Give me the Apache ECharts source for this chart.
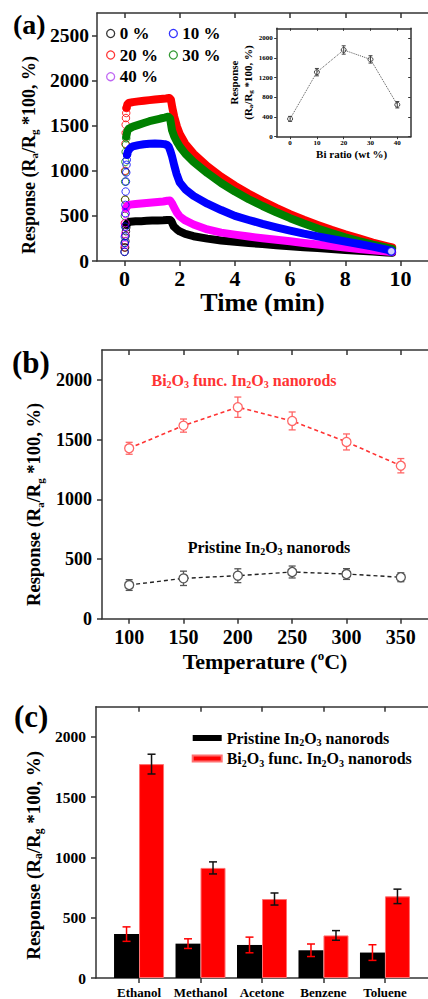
<!DOCTYPE html>
<html><head><meta charset="utf-8">
<script src="https://cdn.jsdelivr.net/npm/echarts@6/dist/echarts.min.js"></script>
<style>html,body{margin:0;padding:0;background:#fff}#c{width:428px;height:999px}</style>
</head><body><div id="c"></div>
<script>
// ================= DATA =================
// Panel (a): response transients, time (min) vs response
const timeTicks = [0, 2, 4, 6, 8, 10];
const respTicksA = [0, 500, 1000, 1500, 2000, 2500];
const namesA = ['0 %', '10 %', '20 %', '30 %', '40 %'];

const rise0 = [[0,100],[0.02,150],[0.03,220],[0.04,280],[0.05,330],[0.06,370],[0.07,400]];
const curve0 = [[0.07,405],[0.12,425],[0.2,435],[0.4,440],[0.6,442],[0.8,445],[1.0,448],[1.2,450],[1.4,452],[1.55,455],[1.65,455],[1.7,440],[1.78,385],[1.9,350],[2.0,328],[2.2,300],[2.5,275],[3.0,248],[3.5,228],[4.0,213],[4.5,200],[5.0,187],[5.5,175],[6.0,164],[6.5,153],[7.0,143],[7.5,133],[8.0,123],[8.5,113],[9.0,104],[9.5,95],[9.7,92]];

const rise1 = [[0,103],[0.01,200],[0.01,270],[0.02,381],[0.03,530],[0.03,622],[0.04,770],[0.05,881],[0.06,981],[0.07,1067],[0.08,1122],[0.09,1178]];
const curve1 = [[0.09,1178],[0.12,1215],[0.2,1250],[0.3,1270],[0.5,1285],[0.7,1295],[0.9,1300],[1.1,1302],[1.3,1300],[1.45,1296],[1.55,1285],[1.6,1268],[1.66,1220],[1.72,1160],[1.8,1060],[1.88,970],[2.0,870],[2.2,795],[2.5,722],[3.0,635],[3.5,565],[4.0,500],[4.5,455],[5.0,412],[5.5,373],[6.0,337],[6.5,303],[7.0,273],[7.5,244],[8.0,216],[8.5,188],[9.0,160],[9.5,127],[9.67,108]];

const rise2 = [[0,150],[0.01,420],[0.02,680],[0.02,1000],[0.03,1300],[0.04,1420],[0.04,1511],[0.05,1585],[0.06,1641],[0.07,1696]];
const curve2 = [[0.07,1700],[0.1,1735],[0.15,1752],[0.3,1762],[0.5,1770],[0.7,1777],[0.9,1784],[1.1,1790],[1.3,1796],[1.5,1802],[1.62,1808],[1.68,1790],[1.73,1700],[1.8,1600],[1.9,1490],[2.0,1410],[2.2,1300],[2.5,1190],[3.0,1050],[3.5,935],[4.0,835],[4.5,745],[5.0,665],[5.5,590],[6.0,520],[6.5,458],[7.0,400],[7.5,345],[8.0,295],[8.5,250],[9.0,205],[9.5,165],[9.7,150]];

const rise3 = [[0,200],[0.01,500],[0.02,680],[0.02,880],[0.03,990],[0.03,1100],[0.04,1210],[0.05,1290],[0.06,1360]];
const curve3 = [[0.06,1380],[0.1,1440],[0.15,1465],[0.3,1490],[0.5,1510],[0.7,1530],[0.9,1550],[1.1,1565],[1.3,1580],[1.45,1590],[1.58,1600],[1.65,1580],[1.72,1450],[1.8,1380],[1.9,1320],[2.0,1270],[2.2,1190],[2.5,1100],[3.0,975],[3.5,865],[4.0,770],[4.5,685],[5.0,610],[5.5,540],[6.0,475],[6.5,415],[7.0,360],[7.5,310],[8.0,262],[8.5,220],[9.0,182],[9.5,148],[9.7,135]];

const rise4 = [[0.01,180],[0.02,300],[0.03,420],[0.04,520],[0.05,580]];
const curve4 = [[0.05,590],[0.1,615],[0.2,625],[0.4,632],[0.6,638],[0.8,643],[1.0,648],[1.2,654],[1.4,660],[1.55,668],[1.65,670],[1.72,640],[1.8,590],[1.9,535],[2.0,495],[2.2,450],[2.5,405],[3.0,350],[3.5,315],[4.0,292],[4.5,272],[5.0,252],[5.5,235],[6.0,218],[6.5,200],[7.0,183],[7.5,166],[8.0,150],[8.5,134],[9.0,120],[9.5,106],[9.7,100]];

// Inset: response vs Bi ratio
const biRatio = [0, 10, 20, 30, 40];
const insetResp = [362, 1310, 1760, 1569, 649];
const insetErr = [50, 75, 85, 75, 65];
const insetXTicks = [0, 10, 20, 30, 40];
const insetYTicks = [0, 400, 800, 1200, 1600, 2000];

// Panel (b): response vs temperature
const temps = [100, 150, 200, 250, 300, 350];
const biTemp = [1427, 1617, 1771, 1656, 1480, 1281];
const biTempErr = [50, 55, 85, 75, 67, 60];
const priTemp = [282, 338, 360, 391, 374, 347];
const priTempErr = [45, 60, 58, 50, 45, 37];
const respTicksB = [0, 500, 1000, 1500, 2000];

// Panel (c): response to gases
const gases = ['Ethanol', 'Methanol', 'Acetone', 'Benzene', 'Toluene'];
const priGas = [364, 285, 274, 230, 211];
const priGasErr = [60, 40, 65, 52, 65];
const biGas = [1774, 913, 655, 353, 677];
const biGasErr = [82, 50, 50, 40, 60];
const respTicksC = [0, 500, 1000, 1500, 2000];

// ================= CHART =================
const F = 'Liberation Serif';
const chart = echarts.init(document.getElementById('c'), null, {renderer: 'svg'});

const AXC = '#333';
function axLine() { return {show: true, onZero: false, lineStyle: {color: AXC, width: 1.5}}; }
function ticks(vals, inside, len, w) { return {show: true, inside: inside, length: len, customValues: vals, lineStyle: {color: AXC, width: w || 1.5}}; }
function labels(vals, size, margin, fmt) {
  return {show: true, customValues: vals, fontFamily: F, fontWeight: 'bold', fontSize: size, color: '#000', margin: margin,
    formatter: fmt || (v => String(v))};
}
function noLabels() { return {show: false}; }
function richTxt(size, sub) {
  return {
    b: {fontFamily: F, fontWeight: 'bold', fontSize: size, color: '#000', lineHeight: size + 3},
    s: {fontFamily: F, fontWeight: 'bold', fontSize: sub, color: '#000', verticalAlign: 'bottom', lineHeight: sub},
    p: {fontFamily: F, fontWeight: 'bold', fontSize: sub, color: '#000', verticalAlign: 'top', lineHeight: sub}
  };
}
const respName = '{b|Response (R}{s|a}{b|/R}{s|g}{b| *100, %)}';

function errSeries(xi, yi, xs, ys, es, color, dx, cap, lw, z) {
  const data = xs.map((x, i) => [x, ys[i] - es[i], ys[i] + es[i]]);
  return {
    type: 'custom', xAxisIndex: xi, yAxisIndex: yi, z: z || 5, silent: true,
    data: data,
    renderItem: function (params, api) {
      const p1 = api.coord([api.value(0), api.value(1)]);
      const p2 = api.coord([api.value(0), api.value(2)]);
      const cx = p1[0] + dx;
      const st = {stroke: color, lineWidth: lw};
      return {type: 'group', children: [
        {type: 'line', shape: {x1: cx, y1: p1[1], x2: cx, y2: p2[1]}, style: st},
        {type: 'line', shape: {x1: cx - cap, y1: p1[1], x2: cx + cap, y2: p1[1]}, style: st},
        {type: 'line', shape: {x1: cx - cap, y1: p2[1], x2: cx + cap, y2: p2[1]}, style: st}
      ]};
    }
  };
}

const colorsA = ['#000000', '#0000ff', '#ff0000', '#008000', '#ff00ff'];
const legendColorsA = ['#000000', '#0000ff', '#ff0000', '#008000', '#b040f0'];
const rises = [rise0, rise1, rise2, rise3, rise4];
const curves = [curve0, curve1, curve2, curve3, curve4];
const drawOrder = [2, 3, 0, 4, 1];

const seriesA = [];
drawOrder.forEach((k, j) => {
  seriesA.push({
    name: namesA[k], type: 'scatter', xAxisIndex: 0, yAxisIndex: 0, data: rises[k],
    symbol: 'circle', symbolSize: 7.5, z: 2 + j * 0.1,
    itemStyle: {color: 'rgba(0,0,0,0)', borderColor: colorsA[k], borderWidth: 1}
  });
  seriesA.push({
    name: namesA[k], type: 'line', xAxisIndex: 0, yAxisIndex: 0, data: curves[k],
    showSymbol: false, z: 2 + j * 0.1, color: colorsA[k],
    lineStyle: {color: colorsA[k], width: 8, join: 'round', cap: 'round'}
  });
});
seriesA.push({
  name: namesA[1], type: 'scatter', xAxisIndex: 0, yAxisIndex: 0, z: 3,
  data: [curve1[curve1.length - 1]], symbol: 'circle', symbolSize: 8,
  itemStyle: {color: '#fff', borderColor: colorsA[1], borderWidth: 1.5}
});

function legA(k, left, top) {
  return {
    data: [{name: namesA[k], icon: 'circle', itemStyle: {color: 'rgba(0,0,0,0)', borderColor: legendColorsA[k], borderWidth: 1.3}}],
    left: left, top: top, padding: 0, itemWidth: 8, itemHeight: 8, selectedMode: false,
    textStyle: {fontFamily: F, fontWeight: 'bold', fontSize: 17, color: '#000'}
  };
}

const gasName = n => n === 'pri'
  ? '{b|Pristine In}{s|2}{b|O}{s|3}{b| nanorods}'
  : '{b|Bi}{s|2}{b|O}{s|3}{b| func. In}{s|2}{b|O}{s|3}{b| nanorods}';
const PRI = 'Pristine In2O3 nanorods';
const BIF = 'Bi2O3 func. In2O3 nanorods';
const barW = 25;

const option = {
  animation: false,
  backgroundColor: '#fff',
  grid: [
    {left: 97, top: 13, width: 337.2, height: 248},
    {left: 276.7, top: 28.3, width: 134, height: 108.4},
    {left: 102, top: 350, width: 333, height: 268.7},
    {left: 96, top: 706.7, width: 339.7, height: 273.3}
  ],
  xAxis: [
    {gridIndex: 0, type: 'value', min: -1, max: 11, position: 'bottom', axisLine: axLine(), axisTick: ticks(timeTicks, false, 5),
      axisLabel: labels(timeTicks, 22, 6), splitLine: {show: false},
      name: 'Time (min)', nameLocation: 'middle', nameGap: 27,
      nameTextStyle: {fontFamily: F, fontWeight: 'bold', fontSize: 26, color: '#000'}},
    {gridIndex: 0, type: 'value', min: -1, max: 11, position: 'top', axisLine: axLine(), axisTick: ticks(timeTicks, true, 5),
      axisLabel: noLabels(), splitLine: {show: false}},
    {gridIndex: 1, type: 'value', min: -5, max: 45, position: 'bottom', axisLine: axLine(), axisTick: ticks(insetXTicks, false, 2.5, 1),
      axisLabel: labels(insetXTicks, 7, 3), splitLine: {show: false},
      name: 'Bi ratio (wt %)', nameLocation: 'middle', nameGap: 12,
      nameTextStyle: {fontFamily: F, fontWeight: 'bold', fontSize: 11, color: '#000', padding: [0, 0, 0, 16]}},
    {gridIndex: 1, type: 'value', min: -5, max: 45, position: 'top', axisLine: axLine(), axisTick: ticks(insetXTicks, true, 2.5, 1),
      axisLabel: noLabels(), splitLine: {show: false}},
    {gridIndex: 2, type: 'value', min: 75, max: 375, position: 'bottom', axisLine: axLine(), axisTick: ticks(temps, false, 5),
      axisLabel: labels(temps, 20, 8), splitLine: {show: false},
      name: '{b|Temperature (}{p|o}{b|C)}', nameLocation: 'middle', nameGap: 30,
      nameTextStyle: {rich: richTxt(22, 13)}},
    {gridIndex: 2, type: 'value', min: 75, max: 375, position: 'top', axisLine: axLine(), axisTick: ticks(temps, true, 5),
      axisLabel: noLabels(), splitLine: {show: false}},
    {gridIndex: 3, type: 'value', min: 0.3, max: 5.7, position: 'bottom', axisLine: axLine(), axisTick: ticks([1, 2, 3, 4, 5], false, 5),
      axisLabel: labels([1, 2, 3, 4, 5], 13, 8, v => gases[Math.round(v) - 1]), splitLine: {show: false}},
    {gridIndex: 3, type: 'value', min: 0.3, max: 5.7, position: 'top', axisLine: axLine(), axisTick: ticks([1, 2, 3, 4, 5], true, 5),
      axisLabel: noLabels(), splitLine: {show: false}}
  ],
  yAxis: [
    {gridIndex: 0, type: 'value', min: 0, max: 2750, axisLine: axLine(), axisTick: ticks(respTicksA, false, 5),
      axisLabel: labels(respTicksA, 19.5, 8), splitLine: {show: false},
      name: respName, nameLocation: 'middle', nameGap: 55, nameRotate: 90,
      nameTextStyle: {rich: richTxt(18, 11), padding: [0, 36, 0, 0]}},
    {gridIndex: 1, type: 'value', min: 0, max: 2200, position: 'left', axisLine: axLine(), axisTick: ticks(insetYTicks, false, 2.5, 1),
      axisLabel: labels(insetYTicks, 7, 4), splitLine: {show: false},
      name: '{b|Response}\n{b|(R}{s|a}{b|/R}{s|g}{b| *100, %)}', nameLocation: 'middle', nameGap: 22, nameRotate: 90,
      nameTextStyle: {rich: richTxt(11, 7), align: 'center'}},
    {gridIndex: 1, type: 'value', min: 0, max: 2200, position: 'right', axisLine: axLine(), axisTick: ticks(insetYTicks, true, 2.5, 1),
      axisLabel: noLabels(), splitLine: {show: false}},
    {gridIndex: 2, type: 'value', min: 0, max: 2250, axisLine: axLine(), axisTick: ticks(respTicksB, false, 5),
      axisLabel: labels(respTicksB, 18, 10), splitLine: {show: false},
      name: respName, nameLocation: 'middle', nameGap: 57, nameRotate: 90,
      nameTextStyle: {rich: richTxt(18.5, 11), padding: [0, 40, 0, 0]}},
    {gridIndex: 3, type: 'value', min: 0, max: 2250, axisLine: axLine(), axisTick: ticks(respTicksC, false, 5),
      axisLabel: labels(respTicksC, 15.5, 10), splitLine: {show: false},
      name: respName, nameLocation: 'middle', nameGap: 52, nameRotate: 90,
      nameTextStyle: {rich: richTxt(19, 11.5), padding: [0, 26, 0, 0]}}
  ],
  legend: [
    legA(0, 106, 25), legA(1, 168.7, 25),
    legA(2, 106, 46.5), legA(3, 168.7, 46.5),
    legA(4, 106, 68.2),
    {
      data: [{name: PRI, icon: 'rect'}, {name: BIF, icon: 'rect'}],
      orient: 'vertical', left: 191.7, top: 730, padding: 0, itemGap: 3, itemWidth: 29, itemHeight: 6, selectedMode: false,
      formatter: n => n === PRI ? gasName('pri') : gasName('bi'),
      textStyle: {rich: richTxt(16, 10)}
    }
  ],
  graphic: [
    {type: 'text', left: 13, top: 10, style: {text: '(a)', fontFamily: F, fontWeight: 'bold', fontSize: 28, fill: '#000'}},
    {type: 'text', left: 12, top: 347, style: {text: '(b)', fontFamily: F, fontWeight: 'bold', fontSize: 31, fill: '#000'}},
    {type: 'text', left: 14, top: 701, style: {text: '(c)', fontFamily: F, fontWeight: 'bold', fontSize: 31, fill: '#000'}},
    {type: 'text', x: 244, y: 380, style: {text: gasName('bi'), align: 'center', verticalAlign: 'middle', fill: '#ff3333',
      rich: {b: {fontFamily: F, fontWeight: 'bold', fontSize: 16, fill: '#ff3333', lineHeight: 19},
             s: {fontFamily: F, fontWeight: 'bold', fontSize: 10, fill: '#ff3333', verticalAlign: 'bottom', lineHeight: 10}}}},
    {type: 'text', x: 269, y: 547, style: {text: gasName('pri'), align: 'center', verticalAlign: 'middle', fill: '#000',
      rich: {b: {fontFamily: F, fontWeight: 'bold', fontSize: 16, fill: '#000', lineHeight: 19},
             s: {fontFamily: F, fontWeight: 'bold', fontSize: 10, fill: '#000', verticalAlign: 'bottom', lineHeight: 10}}}}
  ],
  series: seriesA.concat([
    // inset
    {name: 'inset', type: 'line', xAxisIndex: 2, yAxisIndex: 1, data: biRatio.map((x, i) => [x, insetResp[i]]),
      symbol: 'circle', symbolSize: 5, z: 6,
      lineStyle: {color: '#555', width: 1, type: 'dotted'},
      itemStyle: {color: 'rgba(0,0,0,0)', borderColor: '#444', borderWidth: 1}},
    errSeries(2, 1, biRatio, insetResp, insetErr, '#444', 0, 2, 1, 6),
    // panel (b)
    {name: 'bi-temp', type: 'line', xAxisIndex: 4, yAxisIndex: 3, data: temps.map((x, i) => [x, biTemp[i]]),
      symbol: 'circle', symbolSize: 9, z: 4,
      lineStyle: {color: '#ff3333', width: 1.6, type: [4, 3]},
      itemStyle: {color: 'rgba(255,255,255,1)', borderColor: '#ff6666', borderWidth: 1.3}},
    errSeries(4, 3, temps, biTemp, biTempErr, '#ff6666', 0, 3.5, 1.3, 3),
    {name: 'pri-temp', type: 'line', xAxisIndex: 4, yAxisIndex: 3, data: temps.map((x, i) => [x, priTemp[i]]),
      symbol: 'circle', symbolSize: 9, z: 4,
      lineStyle: {color: '#222', width: 1.4, type: [4, 3]},
      itemStyle: {color: 'rgba(255,255,255,1)', borderColor: '#555', borderWidth: 1.3}},
    errSeries(4, 3, temps, priTemp, priTempErr, '#555', 0, 3.5, 1.3, 3),
    // panel (c)
    {name: PRI, type: 'bar', xAxisIndex: 6, yAxisIndex: 4, data: gases.map((g, i) => [i + 1, priGas[i]]),
      barWidth: barW, barGap: '0%', itemStyle: {color: '#000'}},
    {name: BIF, type: 'bar', xAxisIndex: 6, yAxisIndex: 4, data: gases.map((g, i) => [i + 1, biGas[i]]),
      barWidth: barW, barGap: '0%', itemStyle: {color: '#ff0000', borderColor: '#ff7070', borderWidth: 1}},
    errSeries(6, 4, gases.map((g, i) => i + 1), priGas, priGasErr, '#ff0000', -barW / 2, 4, 1.5, 5),
    errSeries(6, 4, gases.map((g, i) => i + 1), biGas, biGasErr, '#111', barW / 2, 4, 1.5, 5)
  ])
};
chart.setOption(option);
</script>
</body></html>
